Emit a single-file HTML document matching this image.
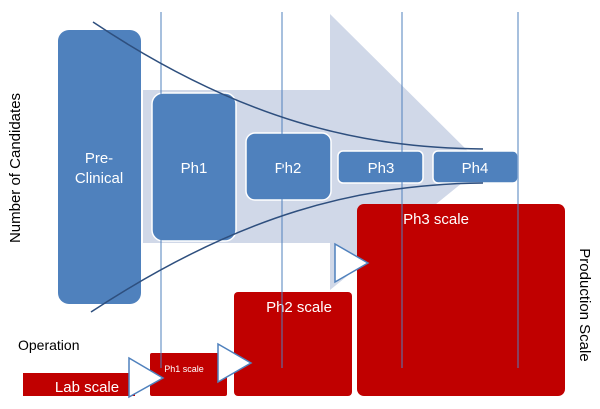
<!DOCTYPE html>
<html><head><meta charset="utf-8"><style>
html,body{margin:0;padding:0;background:#fff;width:600px;height:409px;overflow:hidden}
svg{display:block}
text{font-family:"Liberation Sans",sans-serif}
</style></head><body>
<svg width="600" height="409" viewBox="0 0 600 409" xmlns="http://www.w3.org/2000/svg">
<!-- big arrow -->
<polygon points="143,90 330,90 330,14 483,166 330,290 330,243 143,243" fill="#d0d8e8"/>
<!-- blue boxes -->
<rect x="58" y="30" width="83" height="274" rx="11" fill="#4f81bd"/>
<rect x="152" y="93" width="84" height="148" rx="11" fill="#4f81bd" stroke="#fff" stroke-width="1.5"/>
<rect x="246" y="133" width="85" height="67" rx="9" fill="#4f81bd" stroke="#fff" stroke-width="1.5"/>
<rect x="338" y="151" width="85" height="32" rx="5" fill="#4f81bd" stroke="#fff" stroke-width="1.5"/>
<rect x="433" y="151" width="85" height="32" rx="5" fill="#4f81bd" stroke="#fff" stroke-width="1.5"/>
<g fill="#fff" font-size="15" text-anchor="middle">
<text x="99" y="163">Pre-</text>
<text x="99" y="183">Clinical</text>
<text x="194" y="173">Ph1</text>
<text x="288" y="173">Ph2</text>
<text x="381" y="173">Ph3</text>
<text x="475" y="173">Ph4</text>
</g>
<!-- red boxes -->
<rect x="23" y="373" width="112" height="23" fill="#c00000"/>
<rect x="150" y="353" width="77" height="43" rx="2" fill="#c00000"/>
<rect x="234" y="292" width="118" height="104" rx="4" fill="#c00000"/>
<rect x="357" y="204" width="208" height="192" rx="7" fill="#c00000"/>
<g fill="#fff" text-anchor="middle">
<text x="87" y="392" font-size="15">Lab scale</text>
<text x="184" y="372" font-size="9">Ph1 scale</text>
<text x="299" y="312" font-size="15">Ph2 scale</text>
<text x="436" y="224" font-size="15">Ph3 scale</text>
</g>
<!-- vertical lines -->
<g stroke="#4f81bd" stroke-width="1">
<line x1="161" y1="12" x2="161" y2="368"/>
<line x1="282" y1="12" x2="282" y2="368"/>
<line x1="402" y1="12" x2="402" y2="368"/>
<line x1="518" y1="12" x2="518" y2="368"/>
</g>
<!-- curves -->
<g fill="none" stroke="#2e4f7e" stroke-width="1.5">
<path d="M93,22 C240,120 360,148 483,149"/>
<path d="M91,312 C240,214 360,184 483,183"/>
</g>
<!-- triangles -->
<g fill="#fff" stroke="#4f81bd" stroke-width="1.5">
<polygon points="129,358 163,378 129,397"/>
<polygon points="218,344 251,363 218,382"/>
<polygon points="335,244 368,263 335,282"/>
</g>
<text x="18" y="350" font-size="14" fill="#000">Operation</text>
<text transform="translate(20,168) rotate(-90)" font-size="15" text-anchor="middle" fill="#000">Number of Candidates</text>
<text transform="translate(580,305) rotate(90)" font-size="15" text-anchor="middle" fill="#000">Production Scale</text>
</svg>
</body></html>
